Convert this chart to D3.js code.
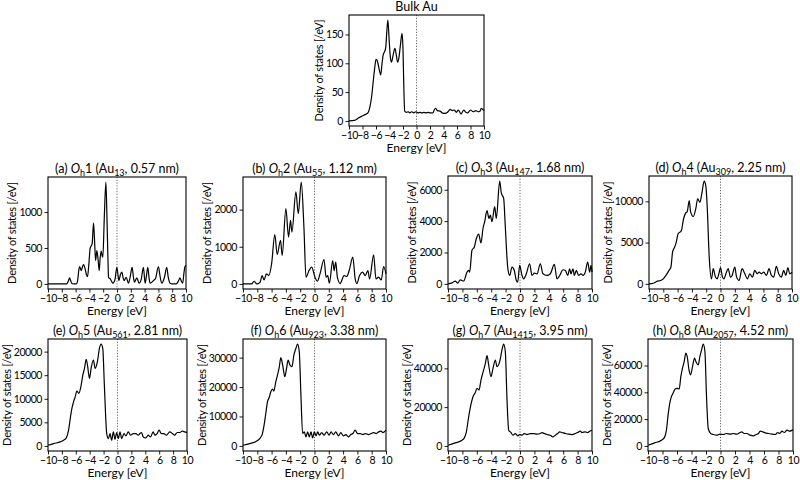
<!DOCTYPE html>
<html><head><meta charset="utf-8">
<script src="https://cdn.jsdelivr.net/npm/d3@7"></script>
<style>
body{margin:0;background:#fff;}
svg{display:block;font-family:Lato,"Open Sans",sans-serif;}
</style></head><body>
<svg id="c" width="800" height="480"></svg>
<script>
// ---------- data ----------
const xTicks = [-10,-8,-6,-4,-2,0,2,4,6,8,10];
const panelIds = ["bulk","a","b","c","d","e","f","g","h"];
const clusterAtoms = [null,13,55,147,309,561,923,1415,2057];
const clusterDiam = [null,"0.57","1.12","1.68","2.25","2.81","3.38","3.95","4.52"];
const yTicksList = [
  [0,50,100,150],
  [0,500,1000],
  [0,1000,2000],
  [0,2000,4000,6000],
  [0,5000,10000],
  [0,5000,10000,15000,20000],
  [0,10000,20000,30000],
  [0,20000,40000],
  [0,20000,40000,60000]
];
const bulkDOS = [[-10,0],[-9.2,1],[-8.6,5],[-7.8,10],[-7.2,14],[-6.9,25],[-6.65,42],[-6.4,70],[-6.16,95],[-6.0,107],[-5.8,104],[-5.5,88],[-5.3,80],[-5.1,100],[-4.93,115],[-4.7,121],[-4.55,128],[-4.4,155],[-4.24,175],[-4.05,140],[-3.85,108],[-3.7,102],[-3.5,112],[-3.2,126],[-3.0,115],[-2.8,102],[-2.6,110],[-2.35,135],[-2.15,152],[-2.0,125],[-1.9,70],[-1.75,17],[-1.5,15],[-1.2,16],[-1.0,14],[-0.7,16],[-0.4,14],[-0.1,16],[0.2,14],[0.5,15],[0.8,14],[1.1,15],[1.4,14],[1.7,15],[2.0,14],[2.4,14],[2.8,22],[3.1,18],[3.5,17],[3.8,14],[4.2,13],[4.6,15],[5.0,20],[5.3,18],[5.6,19],[5.9,15],[6.2,19],[6.6,12],[7.0,19],[7.3,15],[7.6,14],[8.0,19],[8.4,16],[8.8,18],[9.1,16],[9.4,17],[9.6,22],[9.8,20],[10,18]];
const oh1DOS = [[-10,0],[-7.3,0],[-7.05,40],[-6.87,84],[-6.7,40],[-6.5,3],[-5.9,0],[-5.7,50],[-5.55,180],[-5.42,242],[-5.3,215],[-5.18,186],[-5.0,240],[-4.84,270],[-4.6,200],[-4.4,120],[-4.27,102],[-4.1,250],[-3.88,502],[-3.78,520],[-3.6,560],[-3.4,851],[-3.25,600],[-3.1,325],[-2.92,465],[-2.75,350],[-2.58,186],[-2.45,350],[-2.29,456],[-2.15,390],[-2.05,372],[-1.85,900],[-1.61,1417],[-1.45,900],[-1.3,300],[-1.23,93],[-0.99,70],[-0.8,40],[-0.6,10],[-0.3,60],[-0.02,232],[0.15,120],[0.27,46],[0.5,130],[0.7,163],[0.9,80],[1.04,46],[1.33,93],[1.66,10],[1.95,120],[2.19,232],[2.4,80],[2.53,23],[2.87,84],[3.2,10],[3.5,60],[3.83,232],[4.07,10],[4.25,100],[4.46,232],[4.65,80],[4.8,10],[5.28,46],[5.6,80],[6.0,242],[6.25,100],[6.48,10],[6.9,100],[7.2,232],[7.45,80],[7.69,10],[8.0,0],[8.6,0],[8.9,40],[9.13,84],[9.35,30],[9.52,10],[9.7,150],[9.86,242],[10,256]];
const oh2DOS = [[-10,0],[-8.8,0],[-8.45,72],[-8.2,20],[-8.0,0],[-7.6,50],[-7.33,225],[-7.05,108],[-6.72,270],[-6.4,225],[-6.0,540],[-5.55,1330],[-5.22,790],[-4.75,1170],[-4.52,765],[-4.0,2025],[-3.63,1260],[-3.35,1710],[-3.16,1395],[-2.6,2475],[-2.27,1890],[-1.85,2740],[-1.48,1530],[-1.19,180],[-0.77,360],[-0.4,450],[0.07,180],[0.4,72],[0.77,270],[1.33,657],[1.62,180],[1.85,225],[2.08,20],[2.55,630],[2.74,360],[2.97,585],[3.2,180],[3.58,10],[4.14,225],[4.52,200],[4.85,360],[5.36,720],[5.69,135],[5.92,10],[6.3,225],[6.72,315],[7.1,225],[7.47,360],[7.7,135],[8.27,783],[8.6,135],[8.97,180],[9.34,108],[9.67,468],[10,270]];
const oh3DOS = [[-10,0],[-9.44,64],[-8.98,171],[-8.66,43],[-8.29,257],[-7.82,171],[-7.36,750],[-7.13,856],[-6.99,750],[-6.67,2140],[-6.34,2354],[-6.06,2890],[-5.74,3170],[-5.42,2610],[-5.14,3530],[-4.91,3960],[-4.58,4665],[-4.31,4170],[-4.12,4390],[-3.89,3960],[-3.52,4920],[-3.29,4170],[-2.82,6550],[-2.59,5780],[-2.27,5460],[-2.04,3640],[-1.71,1070],[-1.44,535],[-1.11,1070],[-0.79,856],[-0.51,214],[-0.32,107],[-0.05,1180],[0.28,535],[0.51,321],[0.88,642],[1.34,1284],[1.67,535],[1.99,685],[2.36,642],[2.82,1284],[3.19,642],[3.75,535],[4.21,642],[4.77,1240],[5.14,321],[5.51,535],[5.97,900],[6.3,856],[6.62,535],[6.9,963],[7.08,642],[7.36,963],[7.55,535],[7.82,856],[8.15,535],[8.47,642],[8.75,535],[9.07,750],[9.4,1390],[9.68,750],[9.86,1180],[10,750]];
const oh4DOS = [[-10,0],[-9.4,80],[-8.84,330],[-8.37,410],[-8.0,610],[-7.63,1020],[-7.2,1630],[-6.93,2040],[-6.7,3880],[-6.51,4280],[-6.23,4900],[-5.9,6120],[-5.58,6330],[-5.44,6530],[-5.2,7760],[-4.88,8570],[-4.65,8780],[-4.37,10100],[-4.19,8780],[-3.81,8160],[-3.44,9180],[-3.2,10300],[-2.88,9880],[-2.6,11020],[-2.28,12450],[-2.05,11840],[-1.86,9390],[-1.58,3270],[-1.26,610],[-1.02,1840],[-0.7,820],[-0.47,610],[-0.23,1220],[0.0,1960],[0.28,820],[0.47,610],[0.84,1430],[1.07,1840],[1.4,820],[1.63,1020],[2.0,2040],[2.23,900],[2.6,410],[3.02,1840],[3.4,1220],[3.77,610],[4.09,1220],[4.47,820],[4.79,1630],[5.12,1220],[5.4,1430],[5.72,1220],[6.05,1430],[6.42,1020],[6.79,1840],[7.12,1020],[7.44,820],[7.81,2120],[8.14,1220],[8.51,820],[8.84,1630],[9.12,1020],[9.44,1960],[9.67,1220],[10,1430]];
const oh5DOS = [[-10,140],[-9.19,500],[-8.23,850],[-7.76,1200],[-7.37,1700],[-7.04,3330],[-6.8,5800],[-6.56,7940],[-6.32,9360],[-6.09,10400],[-5.85,11630],[-5.56,11130],[-5.27,12550],[-4.99,15030],[-4.75,16450],[-4.51,18360],[-4.32,17160],[-4.03,14320],[-3.8,16450],[-3.46,18220],[-3.22,16450],[-2.89,17870],[-2.6,20700],[-2.36,21600],[-2.12,20700],[-1.89,12900],[-1.55,2620],[-1.31,1560],[-1.07,2620],[-0.84,1200],[-0.6,2980],[-0.36,1420],[-0.12,2840],[0.12,1560],[0.36,2980],[0.6,1560],[0.93,2620],[1.22,2130],[1.55,2980],[1.89,2270],[2.27,2620],[2.65,2620],[2.98,2270],[3.22,2620],[3.46,2840],[3.7,1910],[4.08,1700],[4.41,2270],[4.75,1910],[5.13,2980],[5.37,2270],[5.7,2620],[5.99,3330],[6.32,2620],[6.66,2620],[7.04,2270],[7.52,2980],[7.9,2620],[8.23,2270],[8.57,2840],[8.95,2840],[9.33,3120],[9.67,2980],[10,2840]];
const oh6DOS = [[-10,230],[-9.06,800],[-8.13,1590],[-7.66,2500],[-7.28,4200],[-7.05,7040],[-6.81,11020],[-6.58,15000],[-6.35,16360],[-6.11,18400],[-5.88,19320],[-5.69,18630],[-5.41,21810],[-5.18,24080],[-4.94,26580],[-4.71,30000],[-4.47,27720],[-4.15,23510],[-3.91,26360],[-3.68,29180],[-3.44,27490],[-3.16,26920],[-2.88,30900],[-2.6,33170],[-2.37,34600],[-2.13,32030],[-1.9,17270],[-1.66,4200],[-1.43,4770],[-1.19,3070],[-0.96,4770],[-0.73,3070],[-0.49,4770],[-0.26,2730],[-0.02,4770],[0.21,3410],[0.45,4770],[0.68,3640],[1.01,4540],[1.34,3640],[1.71,4770],[2.04,3640],[2.32,4770],[2.65,3860],[2.97,4770],[3.35,3410],[3.68,4540],[4.05,3410],[4.38,3860],[4.75,3070],[5.08,3860],[5.36,4200],[5.69,5340],[6.02,4200],[6.39,4200],[6.77,3860],[7.1,4200],[7.56,3860],[7.89,4200],[8.27,4540],[8.64,4200],[8.97,4770],[9.3,5000],[9.58,4540],[10,5340]];
const oh7DOS = [[-10,345],[-8.98,1550],[-8.06,2930],[-7.73,4140],[-7.45,7240],[-7.13,15000],[-6.81,21380],[-6.53,25340],[-6.2,27580],[-5.97,29650],[-5.69,28790],[-5.42,33960],[-5.14,37930],[-4.81,42580],[-4.58,46550],[-4.35,41720],[-4.03,35690],[-3.75,40000],[-3.43,44310],[-3.19,40860],[-2.82,43450],[-2.5,49480],[-2.27,52500],[-2.04,48620],[-1.81,24480],[-1.57,8100],[-1.25,6900],[-0.97,5520],[-0.65,6380],[-0.32,5170],[-0.05,5860],[0.28,5520],[0.6,6380],[0.97,5860],[1.44,6380],[1.9,6380],[2.36,6030],[2.82,6380],[3.06,6900],[3.38,6380],[3.75,5860],[4.21,5520],[4.54,4660],[4.91,5520],[5.23,6380],[5.51,7240],[5.83,6900],[6.3,6380],[6.76,6030],[7.22,5860],[7.68,6380],[8.01,6900],[8.38,7590],[8.61,6900],[9.07,7240],[9.4,6900],[9.68,7590],[10,8100]];
const oh8DOS = [[-10,500],[-9.08,2250],[-8.15,4250],[-7.69,6750],[-7.46,11750],[-7.23,23000],[-7.0,31750],[-6.77,36750],[-6.54,39250],[-6.26,42500],[-5.98,43000],[-5.7,42500],[-5.47,51750],[-5.24,58000],[-5.01,63000],[-4.78,69250],[-4.6,66750],[-4.32,56000],[-4.13,53000],[-3.86,59250],[-3.58,65500],[-3.4,63000],[-3.07,60500],[-2.84,66750],[-2.61,71750],[-2.38,76000],[-2.15,70500],[-1.92,35500],[-1.69,13000],[-1.36,9250],[-0.99,8500],[-0.53,8000],[-0.07,8750],[0.39,8500],[0.85,9250],[1.32,8750],[1.78,9250],[2.24,8750],[2.7,10000],[2.93,10500],[3.26,9250],[3.63,9250],[4.09,8000],[4.55,7500],[4.92,8500],[5.24,9250],[5.47,11000],[5.84,10500],[6.17,9750],[6.63,9250],[7.09,8750],[7.55,8500],[7.88,10000],[8.15,9250],[8.48,11000],[8.8,10000],[9.17,11750],[9.54,11000],[9.86,11750],[10,12250]];
const seriesList = [bulkDOS,oh1DOS,oh2DOS,oh3DOS,oh4DOS,oh5DOS,oh6DOS,oh7DOS,oh8DOS];

// ---------- layout ----------
const layout = [
  {L:349,R:484,T:15,B:126},
  {L:48,R:186,T:177,B:289},{L:243,R:386,T:177,B:289},{L:448,R:592,T:176,B:289},{L:649,R:792,T:176,B:289},
  {L:48,R:187,T:339,B:451},{L:243,R:386,T:339,B:451},{L:448,R:592,T:339,B:451},{L:648,R:793,T:339,B:451}
];

const svg = d3.select("#c");
const fmt = d => d < 0 ? "\u2212" + Math.abs(d) : String(d);
const FONT = "Lato,'Open Sans',sans-serif";

panelIds.forEach((id, i) => {
  const p = layout[i], data = seriesList[i];
  const x = d3.scaleLinear().domain([-10,10]).range([p.L,p.R]);
  const ext = d3.extent(data, d => d[1]);
  const lo = Math.min(0, ext[0]), hi = ext[1], pad = (hi - lo) * 0.05;
  const y = d3.scaleLinear().domain([lo - pad, hi + pad]).range([p.B,p.T]);
  const g = svg.append("g");

  // dotted Fermi line
  g.append("line").attr("x1",x(0)).attr("x2",x(0)).attr("y1",p.T).attr("y2",p.B)
    .attr("stroke","#555").attr("stroke-width",0.9).attr("stroke-dasharray","1.2,1.6");

  // curve
  g.append("path").datum(data)
    .attr("d", d3.line().x(d=>x(d[0])).y(d=>y(d[1])).curve(d3.curveMonotoneX))
    .attr("fill","none").attr("stroke","#000").attr("stroke-width",1.2).attr("stroke-linejoin","round");

  // axes
  const xa = g.append("g").attr("transform",`translate(0,${p.B})`)
    .call(d3.axisBottom(x).tickValues(xTicks).tickFormat(fmt).tickSize(3.5).tickPadding(2).tickSizeOuter(0));
  const ya = g.append("g").attr("transform",`translate(${p.L},0)`)
    .call(d3.axisLeft(y).tickValues(yTicksList[i]).tickFormat(d=>String(d)).tickSize(3.5).tickPadding(2.5).tickSizeOuter(0));
  [xa,ya].forEach(a=>{
    a.select(".domain").remove();
    a.selectAll("line").attr("stroke","#000").attr("stroke-width",0.9);
    a.selectAll("text").attr("fill","#000").style("font-size","10.5px").style("font-family",FONT)
      .style("letter-spacing","-0.45px");
  });

  // frame
  g.append("rect").attr("x",p.L).attr("y",p.T).attr("width",p.R-p.L).attr("height",p.B-p.T)
    .attr("fill","none").attr("stroke","#000").attr("stroke-width",1.1);

  // x label
  g.append("text").attr("x",(p.L+p.R)/2).attr("y",p.B+26).attr("text-anchor","middle")
    .style("font-size","12px").text("Energy [eV]");

  // y label
  const bb = ya.node().getBBox();
  const cx = Math.max(7, p.L + bb.x - 7), cy = (p.T+p.B)/2;
  g.append("text").attr("transform",`translate(${cx},${cy}) rotate(-90)`).attr("dy","0.35em")
    .attr("text-anchor","middle").style("font-size","11px").style("letter-spacing","-0.25px")
    .text("Density of states [/eV]");

  // title
  const t = g.append("text").attr("x",(p.L+p.R)/2).attr("y",p.T-4).attr("text-anchor","middle")
    .style("font-size","12.5px");
  if (id === "bulk") {
    t.text("Bulk Au");
  } else {
    t.append("tspan").text(`(${id}) `);
    t.append("tspan").style("font-style","italic").text("O");
    t.append("tspan").attr("dy",3).style("font-size","9px").text("h");
    t.append("tspan").attr("dy",-3).text(`${i} (Au`);
    t.append("tspan").attr("dy",3).style("font-size","9px").text(clusterAtoms[i]);
    t.append("tspan").attr("dy",-3).text(`, ${clusterDiam[i]} nm)`);
  }
});
</script>
</body></html>
